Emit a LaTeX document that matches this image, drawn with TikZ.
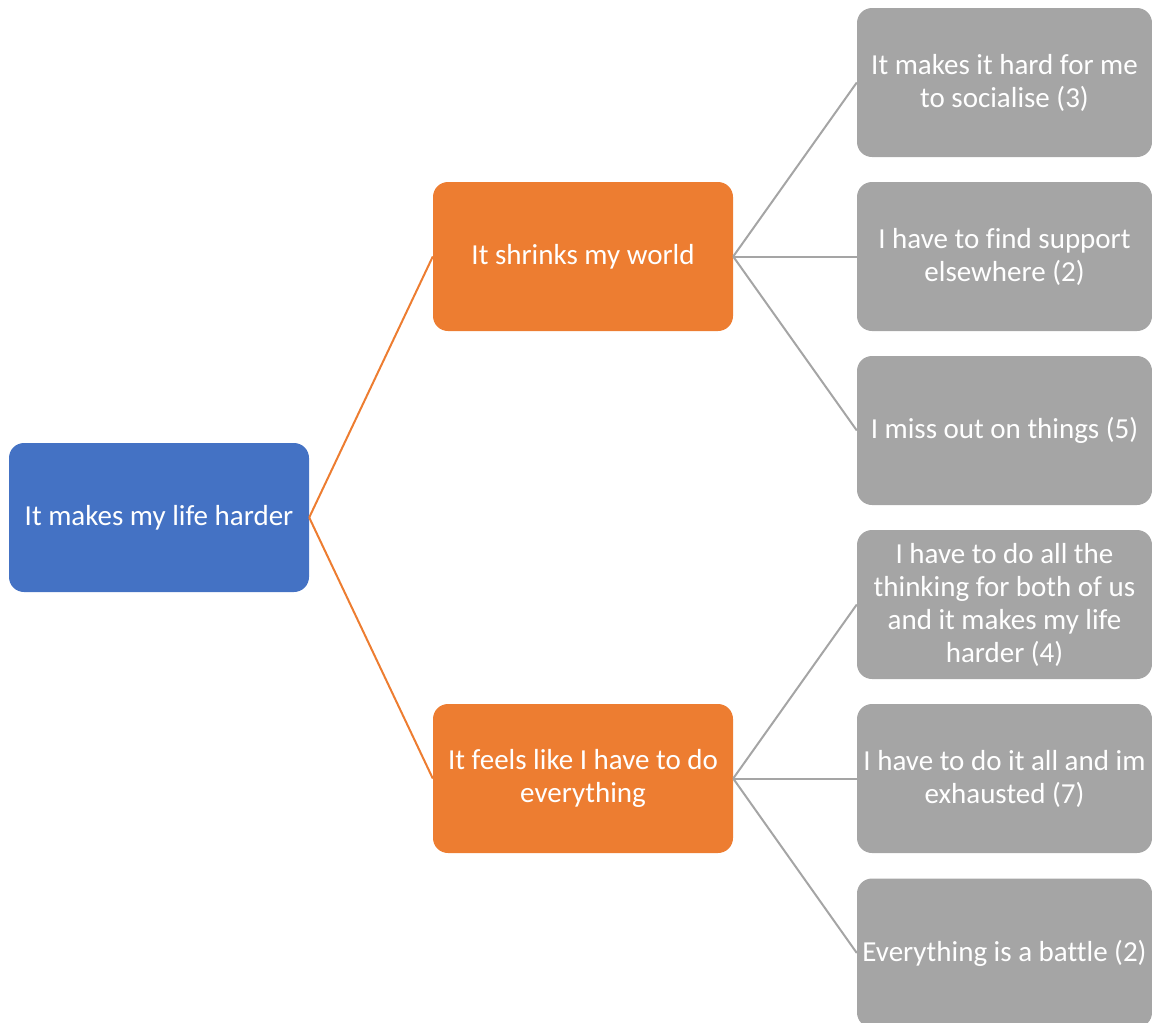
\documentclass[tikz,border=0pt]{standalone}
\usepackage{fontspec}
\setmainfont{Carlito}[Ligatures=NoCommon]
\definecolor{cblue}{HTML}{4472C4}
\definecolor{corange}{HTML}{ED7D31}
\definecolor{cgray}{HTML}{A5A5A5}
\tikzset{
  box/.style={rectangle, rounded corners=15pt, minimum height=149pt, inner sep=0pt,
    align=center, text=white, font=\fontsize{29}{33}\selectfont},
  rootbox/.style={box, fill=cblue, minimum width=300pt},
  midbox/.style={box, fill=corange, minimum width=300pt},
  leafbox/.style={box, fill=cgray, minimum width=295pt},
  olink/.style={draw=corange, line width=2pt},
  glink/.style={draw=cgray, line width=2pt},
}
\begin{document}
\begin{tikzpicture}[x=1pt,y=-1pt]
\useasboundingbox (0,0) rectangle (1152,1023);
\node[rootbox] (root) at (159,517.5) {It makes my life harder};
\node[midbox] (m1) at (583,256.5) {It shrinks my world};
\node[midbox] (m2) at (583,778.5) {It feels like I have to do\\everything};
\node[leafbox] (l1) at (1004.5,82.5) {It makes it hard for me\\to socialise (3)};
\node[leafbox] (l2) at (1004.5,256.5) {I have to find support\\elsewhere (2)};
\node[leafbox] (l3) at (1004.5,430.5) {I miss out on things (5)};
\node[leafbox] (l4) at (1004.5,604.5) {I have to do all the\\thinking for both of us\\and it makes my life\\harder (4)};
\node[leafbox] (l5) at (1004.5,778.5) {I have to do it all and im\\exhausted (7)};
\node[leafbox] (l6) at (1004.5,953) {Everything is a battle (2)};
\draw[olink] (root.east) -- (m1.west);
\draw[olink] (root.east) -- (m2.west);
\draw[glink] (m1.east) -- (l1.west);
\draw[glink] (m1.east) -- (l2.west);
\draw[glink] (m1.east) -- (l3.west);
\draw[glink] (m2.east) -- (l4.west);
\draw[glink] (m2.east) -- (l5.west);
\draw[glink] (m2.east) -- (l6.west);
\end{tikzpicture}
\end{document}
